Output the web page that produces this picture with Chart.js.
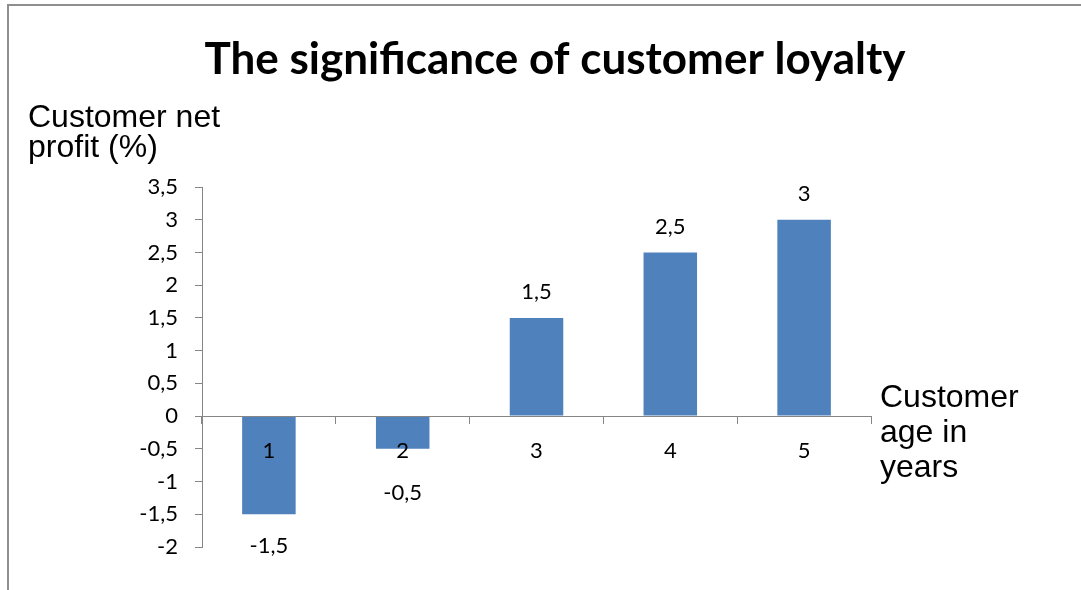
<!DOCTYPE html>
<html>
<head>
<meta charset="utf-8">
<script src="https://cdn.jsdelivr.net/npm/chart.js@4.4.1/dist/chart.umd.min.js"></script>
<style>
  html, body { margin: 0; padding: 0; background: #fff; }
  #wrap { width: 1081px; height: 590px; }
</style>
</head>
<body>
<div id="wrap"><canvas id="chart" width="1081" height="590"></canvas></div>
<script>
// ─── Data ────────────────────────────────────────────────────────────────────
const categories  = ["1", "2", "3", "4", "5"];
const netProfit   = [-1.5, -0.5, 1.5, 2.5, 3];
const yTicks      = [-2, -1.5, -1, -0.5, 0, 0.5, 1, 1.5, 2, 2.5, 3, 3.5];
const titleText   = "The significance of customer loyalty";
const yTitleLines = ["Customer net", "profit (%)"];
const xTitleLines = ["Customer", "age in", "years"];

// Excel-style decimal comma
const comma = (v) => String(v).replace(".", ",");

const AXIS_GREY = "#868686";
const BAR_BLUE  = "#4F81BD";
const TICK_FONT = { family: "Lato, 'Open Sans', sans-serif", size: 22 };

// ─── Decorations: frame, title, axis titles, value labels ────────────────────
const decorations = {
    id: "decorations",
    beforeDraw(chart) {
        const ctx = chart.ctx;
        ctx.save();
        ctx.strokeStyle = "#8e8e8e";
        ctx.lineWidth = 2;
        ctx.strokeRect(8, 5, 1400, 1400);
        ctx.restore();
    },
    afterDraw(chart) {
        const ctx = chart.ctx;
        ctx.save();
        ctx.fillStyle = "#000";

        // title
        ctx.font = "bold 44px Lato, sans-serif";
        ctx.textAlign = "center";
        ctx.textBaseline = "alphabetic";
        ctx.fillText(titleText, 555, 74);

        // axis titles (Arial-like)
        ctx.font = "32px 'Liberation Sans', Arial, sans-serif";
        ctx.textAlign = "left";
        yTitleLines.forEach((t, i) => ctx.fillText(t, 28, 127 + i * 30));
        xTitleLines.forEach((t, i) => ctx.fillText(t, 880, 407 + i * 35));

        // value labels: above positive bars, below negative ones
        // (negative labels are pushed clear of the category labels)
        const zeroY = chart.scales.y.getPixelForValue(0);
        const meta = chart.getDatasetMeta(0);
        ctx.font = `${TICK_FONT.size}px ${TICK_FONT.family}`;
        ctx.textAlign = "center";
        ctx.textBaseline = "middle";
        meta.data.forEach((bar, i) => {
            const v = netProfit[i];
            const y = v >= 0 ? bar.y - 26 : Math.max(bar.y + 32, zeroY + 77);
            ctx.fillText(comma(v), bar.x, y);
        });
        ctx.restore();
    },
};

new Chart(document.getElementById("chart"), {
    type: "bar",
    data: {
        labels: categories,
        datasets: [{
            data: netProfit,
            backgroundColor: BAR_BLUE,
            borderWidth: 0,
            barPercentage: 0.4,
            categoryPercentage: 1.0,
        }],
    },
    options: {
        responsive: false,
        animation: false,
        layout: { padding: { top: 187, left: 0, right: 210, bottom: 43 } },
        plugins: {
            legend: { display: false },
            title: { display: false },
            tooltip: { enabled: false },
        },
        scales: {
            y: {
                min: -2,
                max: 3.5,
                afterBuildTicks: (s) => { s.ticks = yTicks.map((v) => ({ value: v })); },
                afterFit: (s) => { s.width = 202; },
                ticks: { callback: (v) => comma(v), font: TICK_FONT, color: "#000", padding: 17 },
                grid: { drawOnChartArea: false, drawTicks: true, tickLength: 7, color: AXIS_GREY },
                border: { color: AXIS_GREY, width: 1 },
            },
            x: {
                position: { y: 0 },
                // category axis sits on top of the bars, like the Excel original
                grid: { drawOnChartArea: false, drawTicks: true, tickLength: 7, offset: true, color: AXIS_GREY, z: 1 },
                border: { color: AXIS_GREY, width: 1, z: 1 },
                ticks: { font: TICK_FONT, color: "#000", padding: 15, maxRotation: 0, z: 1 },
            },
        },
    },
    plugins: [decorations],
});
</script>
</body>
</html>
